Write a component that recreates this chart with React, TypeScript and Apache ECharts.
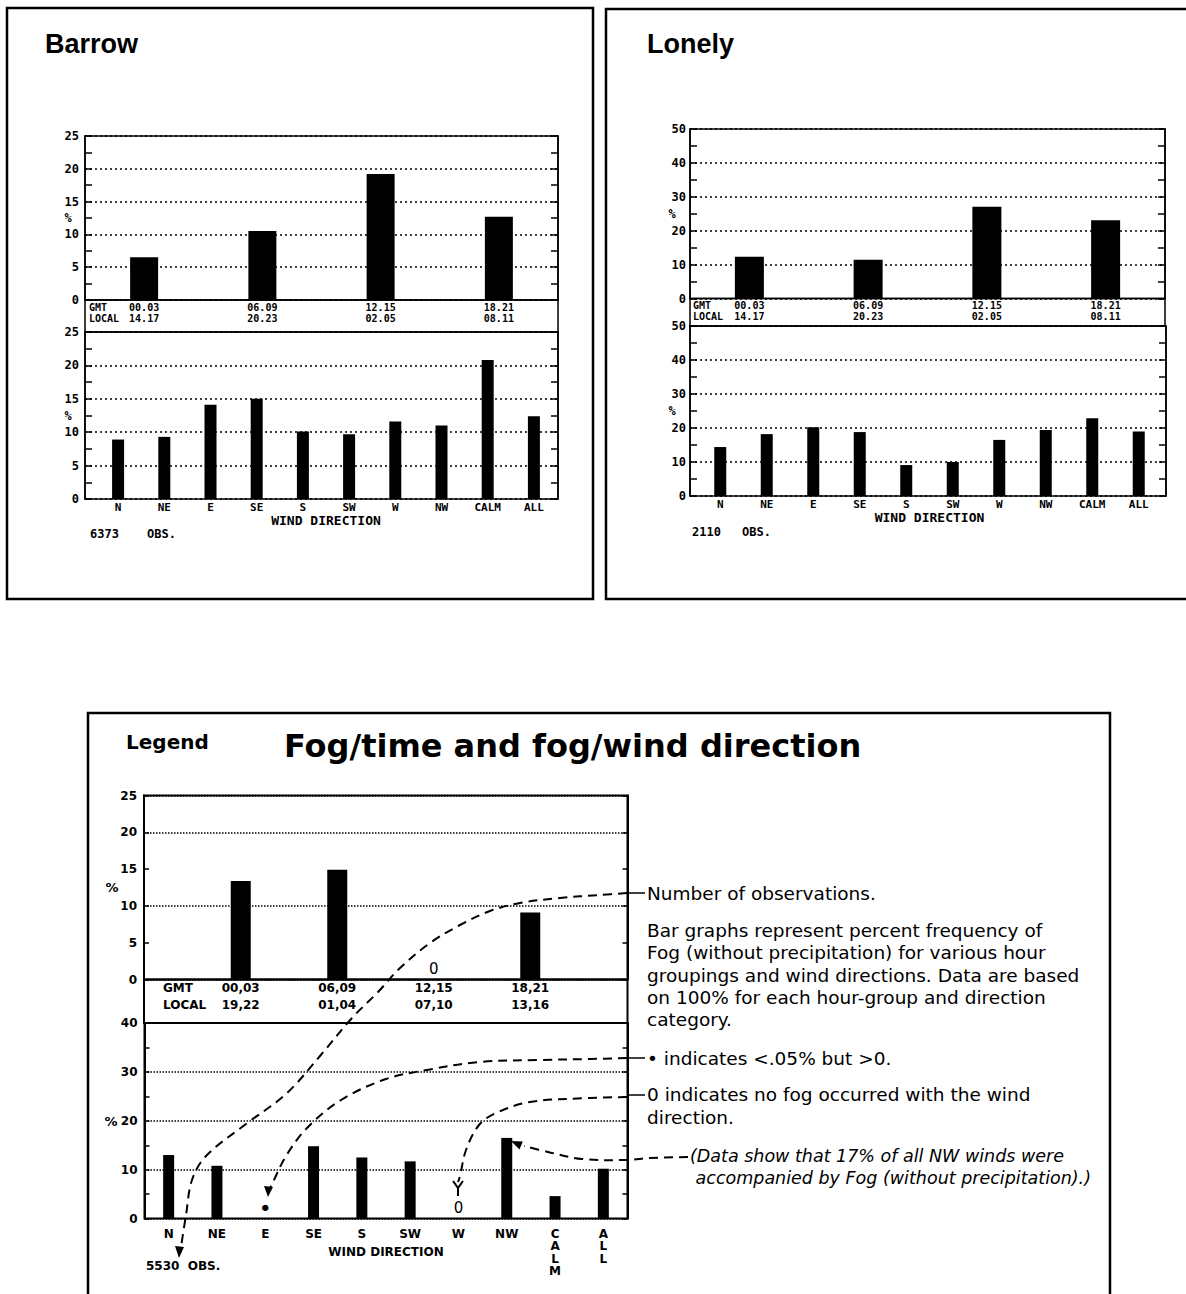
import React, { useEffect, useRef } from 'react';
import * as echarts from 'echarts';

// ---------- data ----------
const windDirections = ['N', 'NE', 'E', 'SE', 'S', 'SW', 'W', 'NW', 'CALM', 'ALL'];

const stationGmt = ['00.03', '06.09', '12.15', '18.21'];
const stationLocal = ['14.17', '20.23', '02.05', '08.11'];
const legendGmt = ['00,03', '06,09', '12,15', '18,21'];
const legendLocal = ['19,22', '01,04', '07,10', '13,16'];

const barrowTimeFog = [6.5, 10.5, 19.2, 12.7];
const barrowWindFog = [8.9, 9.3, 14.1, 15.0, 10.1, 9.7, 11.6, 11.0, 20.8, 12.4];
const lonelyTimeFog = [12.3, 11.4, 27.1, 23.1];
const lonelyWindFog = [14.4, 18.2, 20.2, 18.8, 9.1, 10.0, 16.5, 19.4, 22.9, 19.0];
const legendTimeFog = [13.4, 14.9, 0, 9.1];
const legendWindFog = [13.0, 10.8, 0.04, 14.8, 12.5, 11.7, 0, 16.5, 4.6, 10.2];

const barrowObs = 6373;
const lonelyObs = 2110;
const legendObs = 5530;

const legendNotes = {
  obs: 'Number of observations.',
  para: 'Bar graphs represent percent frequency of\nFog (without precipitation) for various hour\ngroupings and wind directions. Data are based\non 100% for each hour-group and direction\ncategory.',
  dot: '\u2022 indicates <.05% but >0.',
  zero: '0 indicates no fog occurred with the wind\ndirection.',
  example: '(Data show that 17% of all NW winds were\n accompanied by Fog (without precipitation).)',
};

// ---------- styles ----------
const PLOT_FONT = '"DejaVu Sans Mono", monospace';
const LEG_FONT = '"DejaVu Sans", sans-serif';

function buildOption() {
  const grids: any[] = [];
  const xAxis: any[] = [];
  const yAxis: any[] = [];
  const series: any[] = [];

  const addChart = (c: any) => {
    const fg = grids.length;
    grids.push({
      left: c.left, top: c.top, width: c.width, height: c.height,
      show: true, borderColor: '#000', borderWidth: c.border, backgroundColor: 'transparent',
      containLabel: false, outerBoundsMode: 'none',
    });
    xAxis.push({ gridIndex: fg, type: 'value', min: 0, max: 1, show: false });
    const tickStyle = { color: '#000', width: 1.5 };
    const base = { gridIndex: fg, type: 'value', min: 0, max: c.max, interval: c.interval };
    yAxis.push({
      ...base, position: 'left',
      axisLine: { show: true, lineStyle: { color: '#000', width: c.border } },
      axisTick: { show: true, inside: true, length: c.tickLen, lineStyle: tickStyle },
      minorTick: { show: c.minor, splitNumber: 2, length: c.tickLen, lineStyle: tickStyle },
      axisLabel: { show: true, color: '#000', margin: c.yLabelMargin, ...c.yFont },
      splitLine: { show: !c.splitInterval, lineStyle: { color: '#000', type: c.dash, width: c.dashWidth } },
    });
    yAxis.push({
      ...base, position: 'right',
      axisLine: { show: true, lineStyle: { color: '#000', width: c.border } },
      axisTick: { show: true, inside: true, length: c.tickLen, lineStyle: tickStyle },
      minorTick: { show: c.minor, splitNumber: 2, length: c.tickLen, lineStyle: tickStyle },
      axisLabel: { show: false },
      splitLine: { show: false },
    });
    if (c.splitInterval) {
      yAxis.push({
        gridIndex: fg, type: 'value', min: 0, max: c.max, interval: c.splitInterval, position: 'left',
        axisLine: { show: false }, axisTick: { show: false }, axisLabel: { show: false },
        splitLine: { show: true, lineStyle: { color: '#000', type: c.dash, width: c.dashWidth } },
      });
    }
    const dg = grids.length;
    grids.push({
      left: c.dataLeft ?? c.left, top: c.top, width: c.dataWidth ?? c.width, height: c.height,
      show: false, containLabel: false, outerBoundsMode: 'none',
    });
    xAxis.push({
      gridIndex: dg, type: 'category', data: c.cats, boundaryGap: true,
      axisLine: { show: false }, axisTick: { show: false },
      axisLabel: {
        show: true, interval: 0, color: '#000', margin: c.xLabelMargin,
        lineHeight: c.xLineHeight, formatter: c.xFormatter, ...c.xFont,
      },
      name: c.name, nameLocation: 'middle', nameGap: c.nameGap, nameMoveOverlap: false,
      nameTextStyle: { color: '#000', ...(c.nameFont ?? c.xFont) },
    });
    yAxis.push({ gridIndex: dg, type: 'value', min: 0, max: c.max, show: false });
    series.push({
      type: 'bar', xAxisIndex: xAxis.length - 1, yAxisIndex: yAxis.length - 1,
      data: c.values, barWidth: c.barWidth, itemStyle: { color: '#000' },
      label: c.barLabel ?? { show: false }, z: 5,
    });
  };

  const plotY = { fontFamily: PLOT_FONT, fontSize: 12, fontWeight: 'bold' };
  const plotX = { fontFamily: PLOT_FONT, fontSize: 11, fontWeight: 'bold' };
  const plotTime = { fontFamily: PLOT_FONT, fontSize: 10, fontWeight: 'bold' };
  const plotName = { fontFamily: PLOT_FONT, fontSize: 13, fontWeight: 'bold' };
  const legY = { fontFamily: LEG_FONT, fontSize: 12, fontWeight: 'bold' };
  const legX = { fontFamily: LEG_FONT, fontSize: 12, fontWeight: 'bold' };
  const stationDash = [2, 3];

  const stationCommon = {
    minor: true, tickLen: 7, border: 1.5, dash: stationDash, dashWidth: 1.6,
    yFont: plotY, nameFont: plotName,
  };

  // Barrow
  addChart({
    ...stationCommon, left: 85, top: 136, width: 473, height: 164, max: 25, interval: 5,
    cats: stationGmt, values: barrowTimeFog, barWidth: 28, yLabelMargin: 6, xFont: plotTime,
    xLabelMargin: 1.5, xLineHeight: 11.5, xFormatter: (v: string, i: number) => `${v}\n${stationLocal[i]}`,
  });
  addChart({
    ...stationCommon, left: 85, top: 332, width: 473, height: 167, max: 25, interval: 5,
    dataLeft: 95, dataWidth: 462, xFont: plotX,
    cats: windDirections, values: barrowWindFog, barWidth: 12, yLabelMargin: 6,
    xLabelMargin: 3, xLineHeight: 11, name: 'WIND DIRECTION', nameGap: 15,
  });
  // Lonely
  addChart({
    ...stationCommon, left: 690, top: 129, width: 475, height: 169.5, max: 50, interval: 10,
    cats: stationGmt, values: lonelyTimeFog, barWidth: 29, yLabelMargin: 4, xFont: plotTime,
    xLabelMargin: 1, xLineHeight: 11.5, xFormatter: (v: string, i: number) => `${v}\n${stationLocal[i]}`,
  });
  addChart({
    ...stationCommon, left: 690, top: 326, width: 476, height: 170, max: 50, interval: 10,
    dataLeft: 697, dataWidth: 465, xFont: plotX,
    cats: windDirections, values: lonelyWindFog, barWidth: 12, yLabelMargin: 4,
    xLabelMargin: 3, xLineHeight: 11, name: 'WIND DIRECTION', nameGap: 15,
  });

  const legendBarLabel = {
    show: true, position: 'top', distance: 3, color: '#000',
    fontFamily: LEG_FONT, fontSize: 15,
    formatter: (p: any) => (p.value === 0 ? '0' : p.value < 0.05 ? '{dot|\u2022}' : ''),
    rich: { dot: { fontSize: 22, lineHeight: 14, fontFamily: LEG_FONT, color: '#000' } },
  };
  // Legend
  addChart({
    left: 144, top: 795.5, width: 483.5, height: 184, max: 25, interval: 5, splitInterval: 10,
    dataLeft: 192.5, dataWidth: 386, minor: false, tickLen: 5, border: 2,
    dash: [1.5, 1.5], dashWidth: 1.5, yFont: legY, xFont: legX, yLabelMargin: 7,
    cats: legendGmt, values: legendTimeFog, barWidth: 20, barLabel: legendBarLabel,
    xLabelMargin: 0, xLineHeight: 17, xFormatter: (v: string, i: number) => `${v}\n${legendLocal[i]}`,
  });
  addChart({
    left: 144.5, top: 1023, width: 483, height: 195.6, max: 40, interval: 10,
    minor: true, tickLen: 5, border: 2,
    dash: [1.5, 1.5], dashWidth: 1.5, yFont: legY, xFont: legX, yLabelMargin: 7,
    cats: windDirections, values: legendWindFog, barWidth: 11, barLabel: legendBarLabel,
    xLabelMargin: 9, xLineHeight: 12.5,
    xFormatter: (v: string) => (v.length > 2 ? v.split('').join('\n') : v),
    name: 'WIND DIRECTION', nameGap: 27,
  });

  // ---------- graphics ----------
  const els: any[] = [];
  const text = (x: number, y: number, t: string, font: string, extra: any = {}) =>
    els.push({
      type: 'text', x, y, z: 50,
      style: { text: t, fill: '#000', font, textAlign: 'left', textVerticalAlign: 'middle', ...extra },
    });
  const rect = (x: number, y: number, w: number, h: number, lw: number) =>
    els.push({
      type: 'rect', z: 40, shape: { x, y, width: w, height: h },
      style: { fill: 'none', stroke: '#000', lineWidth: lw },
    });
  const line = (x1: number, y1: number, x2: number, y2: number, lw = 1.5, dash?: number[]) =>
    els.push({
      type: 'line', z: 45, shape: { x1, y1, x2, y2 },
      style: { stroke: '#000', lineWidth: lw, lineDash: dash },
    });
  const curve = (pts: number[][]) =>
    els.push({
      type: 'polyline', z: 45, shape: { points: pts, smooth: 0.35 },
      style: { stroke: '#000', lineWidth: 2, lineDash: [9, 6], fill: 'none' },
    });
  const tri = (pts: number[][]) =>
    els.push({ type: 'polygon', z: 45, shape: { points: pts }, style: { fill: '#000' } });

  // panels
  rect(7, 8, 586, 591, 2.5);
  rect(606, 9, 600, 590, 2.5);
  rect(88, 713, 1022, 620, 2.5);

  text(45, 44, 'Barrow', 'bold 27px "Liberation Sans", Arial, sans-serif');
  text(647, 44, 'Lonely', 'bold 27px "Liberation Sans", Arial, sans-serif');

  // GMT / LOCAL boxes
  rect(85, 300, 473, 32, 1.5);
  rect(690, 298.5, 475, 27.5, 1.5);
  rect(144, 979.5, 483.5, 43.5, 2);

  const plotLabel = `bold 10px ${PLOT_FONT}`;
  text(89, 301.5, 'GMT\nLOCAL', plotLabel, { textVerticalAlign: 'top', lineHeight: 11.5 });
  text(693, 299.5, 'GMT\nLOCAL', plotLabel, { textVerticalAlign: 'top', lineHeight: 11.5 });
  const pctFont = `bold 12px ${PLOT_FONT}`;
  text(68, 218, '%', pctFont, { textAlign: 'center' });
  text(68, 416, '%', pctFont, { textAlign: 'center' });
  text(672, 214, '%', pctFont, { textAlign: 'center' });
  text(672, 411, '%', pctFont, { textAlign: 'center' });
  const obsFont = `bold 12px ${PLOT_FONT}`;
  text(90, 534, `${barrowObs}`, obsFont);
  text(147, 534, 'OBS.', obsFont);
  text(692, 532, `${lonelyObs}`, obsFont);
  text(742, 532, 'OBS.', obsFont);

  // legend panel texts
  text(126, 742, 'Legend', `bold 20px ${LEG_FONT}`);
  text(284, 746, 'Fog/time and fog/wind direction', `bold 32px ${LEG_FONT}`);
  const legLabel = `bold 12px ${LEG_FONT}`;
  text(163, 979.5, 'GMT\nLOCAL', legLabel, { textVerticalAlign: 'top', lineHeight: 17 });
  text(112, 887.5, '%', `bold 13px ${LEG_FONT}`, { textAlign: 'center' });
  text(111, 1121, '%', `bold 13px ${LEG_FONT}`, { textAlign: 'center' });
  text(146, 1266, `${legendObs}  OBS.`, legLabel);

  const noteFont = `18.5px ${LEG_FONT}`;
  line(627, 893, 645, 893);
  text(647, 893, legendNotes.obs, noteFont);
  text(647, 919.5, legendNotes.para, noteFont, { textVerticalAlign: 'top', lineHeight: 22.3 });
  line(627, 1058, 645, 1058);
  text(647, 1058, legendNotes.dot, noteFont);
  line(627, 1095, 645, 1095);
  text(647, 1083.5, legendNotes.zero, noteFont, { textVerticalAlign: 'top', lineHeight: 22.6 });
  text(690, 1145, legendNotes.example, `italic 17.5px ${LEG_FONT}`, { textVerticalAlign: 'top', lineHeight: 22 });

  // dashed leader curves
  curve([[627, 893], [600, 895], [560, 898], [520, 903], [490, 911], [460, 925], [430, 943], [400, 968],
    [378, 992], [352, 1018], [320, 1056], [286, 1094], [246, 1124], [206, 1156], [192, 1180], [186, 1215], [181, 1247]]);
  tri([[179, 1258], [175, 1246], [184, 1247]]);
  curve([[627, 1058], [590, 1059], [540, 1060], [479, 1062], [427, 1070], [386, 1079], [341, 1100],
    [307, 1128], [286, 1156], [273, 1182], [270, 1188]]);
  tri([[268, 1197], [264, 1186], [273, 1187]]);
  curve([[627, 1097], [590, 1098], [530, 1102], [496, 1113], [479, 1125], [466, 1150], [460, 1176], [458, 1182]]);
  els.push({
    type: 'polyline', z: 45, shape: { points: [[453, 1181], [458, 1188], [463, 1181]] },
    style: { stroke: '#000', lineWidth: 2, fill: 'none' },
  });
  line(458, 1188, 458, 1196, 2);
  curve([[688, 1157], [650, 1158], [627, 1160], [582, 1159], [548, 1152], [524, 1146]]);
  tri([[511, 1141], [522.8, 1141.5], [519.5, 1149.5]]);

  return {
    animation: false,
    backgroundColor: '#fff',
    grid: grids,
    xAxis,
    yAxis,
    series,
    graphic: { elements: els },
  };
}

export default function App() {
  const ref = useRef<HTMLDivElement>(null);
  useEffect(() => {
    if (!ref.current) return;
    const chart = echarts.init(ref.current, null, { renderer: 'svg', width: 1186, height: 1294 });
    chart.setOption(buildOption() as any);
    return () => chart.dispose();
  }, []);
  return (
    <div
      ref={ref}
      style={{ position: 'absolute', left: 0, top: 0, width: 1186, height: 1294, background: '#fff' }}
    />
  );
}
